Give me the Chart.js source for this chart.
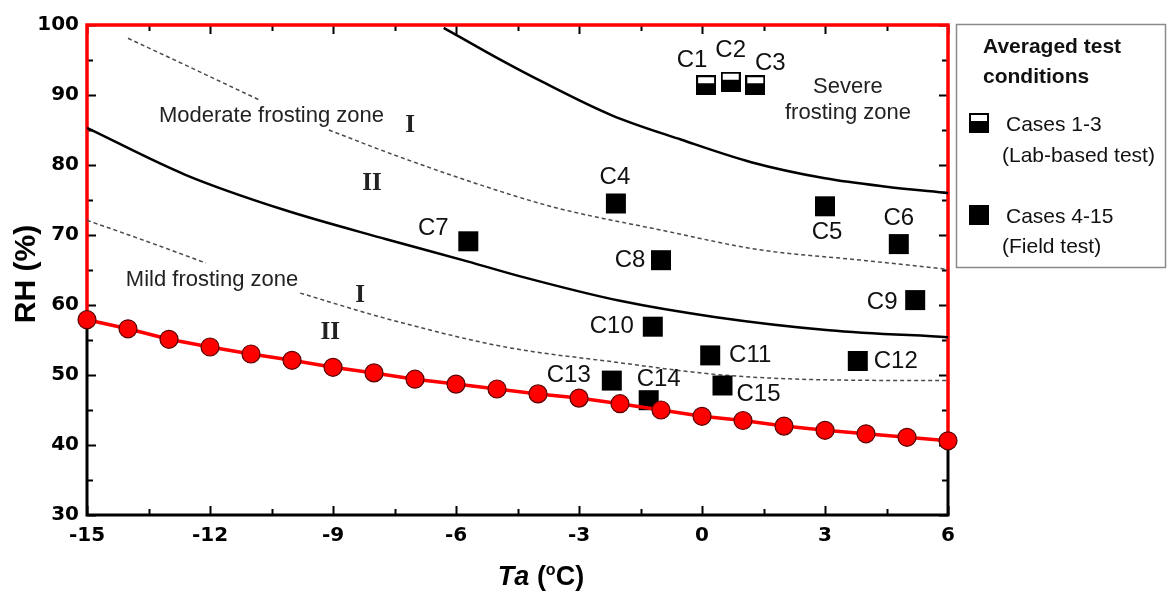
<!DOCTYPE html>
<html>
<head>
<meta charset="utf-8">
<script src="https://cdn.jsdelivr.net/npm/chart.js@4.4.1/dist/chart.umd.min.js"></script>
<style>
  html, body { margin: 0; padding: 0; background: #fff; }
  #wrap { width: 1168px; height: 592px; position: relative; }
</style>
</head>
<body>
<div id="wrap"><canvas id="c" width="1168" height="592"></canvas></div>
<script>
// ---------------- DATA ----------------
// Frosting limit line (red, with markers)
const limitT  = [-15, -14, -13, -12, -11, -10, -9, -8, -7, -6, -5, -4, -3, -2, -1, 0, 1, 2, 3, 4, 5, 6];
const limitRH = [57.9, 56.6, 55.1, 54.0, 53.0, 52.1, 51.1, 50.3, 49.4, 48.7, 48.0, 47.3, 46.7, 45.9, 45.0, 44.1, 43.5, 42.7, 42.1, 41.6, 41.1, 40.6];

// Boundary: severe / moderate (solid)
const severeT  = [-6.3, -5, -3.9, -2.2, -0.5, 1.2, 3, 4.5, 6];
const severeRH = [99.6, 95.3, 91.9, 87.1, 83.6, 80.4, 78.1, 76.9, 76.0];

// Boundary: moderate / mild (solid)
const moderateT  = [-15, -12.6, -10.2, -7.7, -5.7, -4.5, -2, 0.3, 3.1, 6];
const moderateRH = [85.3, 78.6, 73.6, 69.4, 66.2, 64.2, 60.6, 58.3, 56.4, 55.4];

// Sub-zone boundary inside moderate zone (dashed); null = gap behind text
const modSubT  = [-14, -12.5, -10.8, -10, -9.1, -7.4, -4.9, -3.5, -1, 1.4, 3.9, 6];
const modSubRH = [98.1, 94.0, 89.3, null, 85.0, 81.2, 76.2, 73.8, 70.7, 67.9, 66.4, 65.1];

// Sub-zone boundary inside mild zone (dashed); null = gap behind text
const mildSubT  = [-15, -13.5, -12.1, -11, -9.8, -7.6, -4.8, -2.2, 0.5, 3.1, 6];
const mildSubRH = [72.1, 69.0, 66.0, null, 61.7, 57.9, 54.0, 51.9, 50.0, 49.3, 49.2];

// Averaged test conditions
const caseNames = ['C1','C2','C3','C4','C5','C6','C7','C8','C9','C10','C11','C12','C13','C14','C15'];
const caseT  = [0.1, 0.7, 1.3, -2.1, 3.0, 4.8, -5.7, -1.0, 5.2, -1.2, 0.2, 3.8, -2.2, -1.3, 0.5];
const caseRH = [91.4, 91.9, 91.4, 74.5, 74.1, 68.7, 69.1, 66.4, 60.7, 56.9, 52.8, 52.0, 49.2, 46.4, 48.5];
const labCases = 3; // first three are lab-based

// Axis ticks
const xTickValues = [-15, -12, -9, -6, -3, 0, 3, 6];
const yTickValues = [30, 40, 50, 60, 70, 80, 90, 100];

// Text annotations (in data coordinates)
const zoneTexts = [
  { text: 'Moderate frosting zone', t: -10.5, rh: 87.0 },
  { text: 'Severe', t: 3.56, rh: 91.1 },
  { text: 'frosting zone', t: 3.56, rh: 87.4 },
  { text: 'Mild frosting zone', t: -11.95, rh: 63.6 }
];
const romanTexts = [
  { text: 'I', t: -7.12, rh: 85.7 },
  { text: 'II', t: -8.05, rh: 77.4 },
  { text: 'I', t: -8.34, rh: 61.4 },
  { text: 'II', t: -9.07, rh: 56.1 }
];

// ---------------- LAYOUT (label offsets in px) ----------------
const caseLabelOffsets = [
  [-14, -25], [0, -31], [15, -22], [-1, -26], [2, 26], [0, -26], [-35, -13],
  [-31, 0], [-33, 2], [-41, 0], [40, 0], [38, 0], [-43, -5], [10, -21], [36, 9]
];

const toXY = (xs, ys) => xs.map((v, i) => ({ x: v, y: ys[i] }));

function halfSquare(size) {
  const c = document.createElement('canvas');
  c.width = size; c.height = size;
  const g = c.getContext('2d');
  g.fillStyle = '#fff'; g.fillRect(0, 0, size, size);
  g.fillStyle = '#000'; g.fillRect(0, Math.round(size * 0.42), size, size);
  g.strokeStyle = '#000'; g.lineWidth = 2;
  g.strokeRect(1, 1, size - 2, size - 2);
  return c;
}
const halfImg = halfSquare(20);

const decor = {
  id: 'decor',
  beforeDatasetsDraw(chart) {
    const { ctx, chartArea: a, scales: { x, y } } = chart;
    ctx.save();
    // inward ticks on all four sides
    ctx.strokeStyle = '#000';
    ctx.lineWidth = 2;
    ctx.beginPath();
    for (let v = y.min; v <= y.max + 0.001; v += 5) {
      const p = Math.round(y.getPixelForValue(v)) + 0.5;
      const len = (Math.round(v) % 10 === 0) ? 9 : 6;
      ctx.moveTo(a.left, p); ctx.lineTo(a.left + len, p);
      ctx.moveTo(a.right, p); ctx.lineTo(a.right - len, p);
    }
    for (let v = x.min; v <= x.max + 0.001; v += 1.5) {
      const p = Math.round(x.getPixelForValue(v)) + 0.5;
      const major = Math.abs(((v - x.min) / 3) - Math.round((v - x.min) / 3)) < 0.01;
      const len = major ? 9 : 6;
      ctx.moveTo(p, a.bottom); ctx.lineTo(p, a.bottom - len);
      ctx.moveTo(p, a.top); ctx.lineTo(p, a.top + len);
    }
    ctx.stroke();

    // frame: black part
    const yL = y.getPixelForValue(limitRH[0]);
    const yR = y.getPixelForValue(limitRH[limitRH.length - 1]);
    ctx.lineWidth = 3;
    ctx.lineCap = 'square';
    ctx.strokeStyle = '#000';
    ctx.beginPath();
    ctx.moveTo(a.left, yL); ctx.lineTo(a.left, a.bottom); ctx.lineTo(a.right, a.bottom); ctx.lineTo(a.right, yR);
    ctx.stroke();
    // frame: red part (region above the limit line)
    ctx.strokeStyle = '#ff0000';
    ctx.lineWidth = 3.5;
    ctx.beginPath();
    ctx.moveTo(a.left, yL); ctx.lineTo(a.left, a.top); ctx.lineTo(a.right, a.top); ctx.lineTo(a.right, yR);
    ctx.stroke();
    ctx.restore();
  },
  afterDatasetsDraw(chart) {
    const { ctx, scales: { x, y } } = chart;
    ctx.save();
    ctx.textAlign = 'center';
    ctx.textBaseline = 'middle';
    // case labels
    ctx.fillStyle = '#111';
    ctx.font = '24px "Liberation Sans", Arial, sans-serif';
    caseNames.forEach((n, i) => {
      const px = x.getPixelForValue(caseT[i]) + caseLabelOffsets[i][0];
      const py = y.getPixelForValue(caseRH[i]) + caseLabelOffsets[i][1];
      ctx.fillText(n, px, py);
    });
    // zone texts
    ctx.fillStyle = '#222';
    ctx.font = '22px "Liberation Sans", Arial, sans-serif';
    zoneTexts.forEach(z => ctx.fillText(z.text, x.getPixelForValue(z.t), y.getPixelForValue(z.rh)));
    ctx.font = 'bold 25px "Liberation Serif", "Times New Roman", serif';
    ctx.fillStyle = '#222';
    romanTexts.forEach(z => ctx.fillText(z.text, x.getPixelForValue(z.t), y.getPixelForValue(z.rh)));

    // axis titles
    ctx.fillStyle = '#000';
    ctx.save();
    ctx.translate(27, (chart.chartArea.top + chart.chartArea.bottom) / 2 + 4);
    ctx.rotate(-Math.PI / 2);
    ctx.font = 'bold 30px "Liberation Sans", Arial, sans-serif';
    ctx.fillText('RH (%)', 0, 0);
    ctx.restore();

    // x title: Ta (°C)
    const parts = [
      { s: 'T', f: 'italic bold 27px "Liberation Sans", Arial, sans-serif', dy: 0 },
      { s: 'a', f: 'italic bold 27px "Liberation Sans", Arial, sans-serif', dy: 0 },
      { s: ' (', f: 'bold 27px "Liberation Sans", Arial, sans-serif', dy: 0 },
      { s: 'o', f: 'bold 16px "Liberation Sans", Arial, sans-serif', dy: -10 },
      { s: 'C)', f: 'bold 27px "Liberation Sans", Arial, sans-serif', dy: 0 }
    ];
    let total = 0;
    parts.forEach(p => { ctx.font = p.f; p.w = ctx.measureText(p.s).width; total += p.w; });
    let cx = 541 - total / 2;
    ctx.textAlign = 'left';
    ctx.textBaseline = 'alphabetic';
    parts.forEach(p => { ctx.font = p.f; ctx.fillText(p.s, cx, 585 + p.dy); cx += p.w; });

    // legend box
    ctx.strokeStyle = '#8a8a8a';
    ctx.lineWidth = 1.5;
    ctx.strokeRect(956.5, 24.5, 209, 243);
    ctx.fillStyle = '#111';
    ctx.font = 'bold 21px "Liberation Sans", Arial, sans-serif';
    ctx.fillText('Averaged test', 983, 53);
    ctx.fillText('conditions', 983, 83);
    ctx.font = '21px "Liberation Sans", Arial, sans-serif';
    ctx.fillText('Cases 1-3', 1006, 131);
    ctx.fillText('(Lab-based test)', 1002, 162);
    ctx.fillText('Cases 4-15', 1006, 223);
    ctx.fillText('(Field test)', 1002, 253);
    ctx.drawImage(halfImg, 969, 113, 20, 20);
    ctx.fillStyle = '#000';
    ctx.fillRect(969, 205, 20, 20);
    ctx.restore();
  }
};

const solidStyle = { borderColor: '#000', borderWidth: 2.5, pointRadius: 0, fill: false, cubicInterpolationMode: 'monotone', spanGaps: false };
const dashStyle = { borderColor: '#4a4a4a', borderWidth: 1.5, borderDash: [4, 3], pointRadius: 0, fill: false, cubicInterpolationMode: 'monotone', spanGaps: false };

new Chart(document.getElementById('c'), {
  type: 'scatter',
  data: {
    datasets: [
      {
        label: 'Frosting limit',
        data: toXY(limitT, limitRH),
        showLine: true,
        borderColor: '#ff0000',
        borderWidth: 3.5,
        pointRadius: 9,
        pointBackgroundColor: '#ff0000',
        pointBorderColor: '#5a0000',
        pointBorderWidth: 1.2,
        clip: false
      },
      {
        label: 'Cases 1-3',
        data: toXY(caseT.slice(0, labCases), caseRH.slice(0, labCases)),
        pointStyle: halfImg,
        pointRadius: 10,
        showLine: false
      },
      {
        label: 'Cases 4-15',
        data: toXY(caseT.slice(labCases), caseRH.slice(labCases)),
        pointStyle: 'rect',
        pointRadius: 14.14,
        pointBackgroundColor: '#000',
        pointBorderColor: '#000',
        pointBorderWidth: 0,
        showLine: false
      },
      Object.assign({ label: 'severe', data: toXY(severeT, severeRH), showLine: true }, solidStyle),
      Object.assign({ label: 'moderate', data: toXY(moderateT, moderateRH), showLine: true }, solidStyle),
      Object.assign({ label: 'modSub', data: toXY(modSubT, modSubRH), showLine: true }, dashStyle),
      Object.assign({ label: 'mildSub', data: toXY(mildSubT, mildSubRH), showLine: true }, dashStyle)
    ]
  },
  options: {
    responsive: false,
    animation: false,
    events: [],
    layout: { padding: { left: 0, top: 25, right: 220, bottom: 0 } },
    plugins: { legend: { display: false }, tooltip: { enabled: false } },
    scales: {
      x: {
        type: 'linear',
        min: -15, max: 6,
        grid: { display: false },
        border: { display: false },
        afterFit: s => { s.height = 77; },
        afterBuildTicks: s => { s.ticks = xTickValues.map(v => ({ value: v })); },
        ticks: {
          padding: 1,
          color: '#000',
          font: { family: '"DejaVu Sans"', weight: 'bold', size: 20 },
          maxRotation: 0
        }
      },
      y: {
        type: 'linear',
        min: 30, max: 100,
        grid: { display: false },
        border: { display: false },
        afterFit: s => { s.width = 87; },
        afterBuildTicks: s => { s.ticks = yTickValues.map(v => ({ value: v })); },
        ticks: {
          padding: 0,
          color: '#000',
          font: { family: '"DejaVu Sans"', weight: 'bold', size: 20 }
        }
      }
    }
  },
  plugins: [decor]
});
</script>
</body>
</html>
